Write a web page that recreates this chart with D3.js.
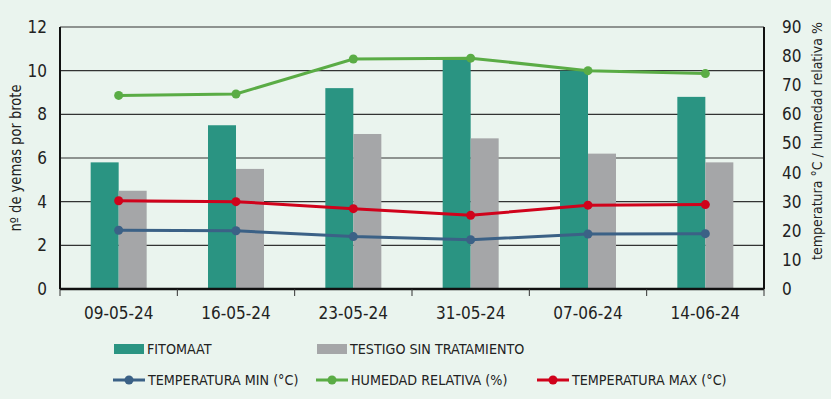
<!DOCTYPE html>
<html>
<head>
<meta charset="utf-8">
<script src="https://cdn.jsdelivr.net/npm/d3@7"></script>
<style>
  html, body { margin: 0; padding: 0; background: #eaf4ee; }
  svg { display: block; font-family: "Liberation Sans Narrow", "DejaVu Sans Condensed", sans-serif; }
  .tick-label { font-size: 17px; fill: #222; }
  .axis-title { font-size: 15px; fill: #222; }
  .axis-title.right { font-size: 14px; }
  .legend text { font-size: 14.2px; fill: #222; }
</style>
</head>
<body>
<svg id="chart" width="831" height="399"></svg>
<script>
// data
const dates = ['09-05-24', '16-05-24', '23-05-24', '31-05-24', '07-06-24', '14-06-24'];
const fitomaat = [5.8, 7.5, 9.2, 10.5, 10.0, 8.8];
const testigo = [4.5, 5.5, 7.1, 6.9, 6.2, 5.8];
const temp_min = [20.2, 20.0, 18.0, 16.9, 18.9, 19.0];
const humedad = [66.5, 67.0, 79.0, 79.3, 75.0, 74.0];
const temp_max = [30.3, 30.0, 27.6, 25.3, 28.8, 29.0];
const left_ticks = [0, 2, 4, 6, 8, 10, 12];
const right_ticks = [0, 10, 20, 30, 40, 50, 60, 70, 80, 90];

const colors = {
  fitomaat: '#2a9482',
  testigo: '#a5a6a8',
  min: '#3b6186',
  hum: '#5aac45',
  max: '#d0021b',
};

const svg = d3.select('#chart');
const margin = { left: 60, right: 831 - 764, top: 27, bottom: 399 - 289 };
const width = 831 - margin.left - margin.right;
const height = 399 - margin.top - margin.bottom;

const g = svg.append('g').attr('transform', `translate(${[margin.left, margin.top]})`);

const x = d3.scaleBand().domain(dates).range([0, width]);
const yL = d3.scaleLinear().domain([0, 12]).range([height, 0]);
const yR = d3.scaleLinear().domain([0, 90]).range([height, 0]);
const barW = 28;

// gridlines
g.selectAll('line.grid').data(left_ticks).join('line')
  .attr('class', 'grid')
  .attr('x1', 0).attr('x2', width)
  .attr('y1', d => yL(d)).attr('y2', d => yL(d))
  .attr('stroke', d => d === 0 ? '#111' : '#333')
  .attr('stroke-width', d => d === 0 ? 2 : 1.2);

// bars
const cat = g.selectAll('g.cat').data(dates).join('g')
  .attr('class', 'cat')
  .attr('transform', d => `translate(${x(d) + x.bandwidth() / 2},0)`);
cat.append('rect')
  .attr('x', -barW).attr('width', barW)
  .attr('y', (d, i) => yL(fitomaat[i]))
  .attr('height', (d, i) => height - yL(fitomaat[i]))
  .attr('fill', colors.fitomaat);
cat.append('rect')
  .attr('x', 0).attr('width', barW)
  .attr('y', (d, i) => yL(testigo[i]))
  .attr('height', (d, i) => height - yL(testigo[i]))
  .attr('fill', colors.testigo);

// axis frame
g.append('line').attr('x1', 0).attr('x2', 0).attr('y1', 0).attr('y2', height).attr('stroke', '#111').attr('stroke-width', 2);
g.append('line').attr('x1', width).attr('x2', width).attr('y1', 0).attr('y2', height).attr('stroke', '#111').attr('stroke-width', 2);
g.append('line').attr('x1', 0).attr('x2', width).attr('y1', height).attr('y2', height).attr('stroke', '#111').attr('stroke-width', 2.5);

// x ticks at category boundaries
const bounds = dates.map(d => x(d)).concat([width]);
g.selectAll('line.xtick').data(bounds).join('line')
  .attr('class', 'xtick')
  .attr('x1', d => d).attr('x2', d => d)
  .attr('y1', height).attr('y2', height + 7)
  .attr('stroke', '#333').attr('stroke-width', 1);

g.selectAll('text.xlabel').data(dates).join('text')
  .attr('class', 'tick-label xlabel')
  .attr('x', d => x(d) + x.bandwidth() / 2)
  .attr('y', height + 30)
  .attr('text-anchor', 'middle')
  .text(d => d);

// y tick labels
g.selectAll('text.ylabel').data(left_ticks).join('text')
  .attr('class', 'tick-label ylabel')
  .attr('x', -13).attr('y', d => yL(d)).attr('dy', '.35em')
  .attr('text-anchor', 'end')
  .text(d => d);
g.selectAll('text.rlabel').data(right_ticks).join('text')
  .attr('class', 'tick-label rlabel')
  .attr('x', width + 18).attr('y', d => yR(d)).attr('dy', '.35em')
  .attr('text-anchor', 'start')
  .text(d => d);

// axis titles
svg.append('text').attr('class', 'axis-title')
  .attr('transform', `translate(${[21, 158]}) rotate(-90)`)
  .attr('text-anchor', 'middle')
  .attr('textLength', 147).attr('lengthAdjust', 'spacingAndGlyphs')
  .text('nº de yemas por brote');
svg.append('text').attr('class', 'axis-title right')
  .attr('transform', `translate(${[822, 141]}) rotate(-90)`)
  .attr('text-anchor', 'middle')
  .text('temperatura °C / humedad relativa %');

// lines
const series = [
  { key: 'min', values: temp_min },
  { key: 'hum', values: humedad },
  { key: 'max', values: temp_max },
];
const line = d3.line()
  .x((d, i) => x(dates[i]) + x.bandwidth() / 2)
  .y(d => yR(d));
const sg = g.selectAll('g.series').data(series).join('g').attr('class', 'series');
sg.append('path')
  .attr('d', d => line(d.values))
  .attr('fill', 'none')
  .attr('stroke', d => colors[d.key])
  .attr('stroke-width', 3);
sg.selectAll('circle').data(d => d.values.map(v => ({ v, key: d.key }))).join('circle')
  .attr('cx', (d, i) => x(dates[i]) + x.bandwidth() / 2)
  .attr('cy', d => yR(d.v))
  .attr('r', 4.5)
  .attr('fill', d => colors[d.key]);

// legend
const legend = svg.append('g').attr('class', 'legend');
const rectItems = [
  { label: 'FITOMAAT', color: colors.fitomaat, x: 114 },
  { label: 'TESTIGO SIN TRATAMIENTO', color: colors.testigo, x: 317 },
];
const li = legend.selectAll('g.rect-item').data(rectItems).join('g')
  .attr('class', 'rect-item')
  .attr('transform', d => `translate(${[d.x, 349]})`);
li.append('rect').attr('x', 0).attr('y', -5).attr('width', 30).attr('height', 10).attr('fill', d => d.color);
li.append('text').attr('x', 33).attr('dy', '.35em').text(d => d.label);

const lineItems = [
  { label: 'TEMPERATURA MIN (°C)', color: colors.min, x: 113 },
  { label: 'HUMEDAD RELATIVA (%)', color: colors.hum, x: 316 },
  { label: 'TEMPERATURA MAX (°C)', color: colors.max, x: 537 },
];
const ll = legend.selectAll('g.line-item').data(lineItems).join('g')
  .attr('class', 'line-item')
  .attr('transform', d => `translate(${[d.x, 380]})`);
ll.append('line').attr('x1', 0).attr('x2', 32).attr('stroke', d => d.color).attr('stroke-width', 3);
ll.append('circle').attr('cx', 16).attr('r', 4.5).attr('fill', d => d.color);
ll.append('text').attr('x', 35).attr('dy', '.35em').text(d => d.label);
</script>
</body>
</html>
